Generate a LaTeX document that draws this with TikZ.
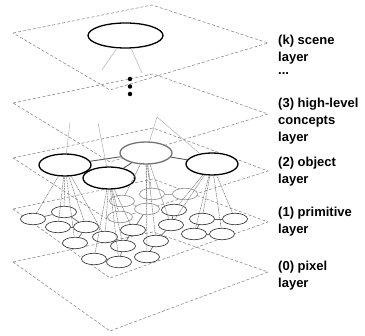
\documentclass[tikz,border=0pt]{standalone}
\usepackage{fontspec}
\setmainfont{Liberation Sans}
\usetikzlibrary{shapes.geometric}
\begin{document}
\begin{tikzpicture}[x=1pt,y=-1pt,
  plane/.style={draw=black!45, dash pattern=on 3pt off 2pt, line width=0.6pt},
  objnode/.style={ellipse, draw=black, line width=1.3pt, fill=white,
    minimum width=52pt, minimum height=22pt, inner sep=0pt},
  objback/.style={objnode, draw=black!55},
  primnode/.style={ellipse, draw=black!75, line width=0.7pt, fill=white,
    minimum width=25pt, minimum height=11.5pt, inner sep=0pt},
  primback/.style={primnode, draw=black!40},
  uplink/.style={draw=black!30, line width=0.5pt},
  downlink/.style={draw=black!55, line width=0.5pt, dash pattern=on 1pt off 0.6pt},
  peer/.style={draw=black!65, line width=0.6pt},
  lbl/.style={anchor=north west, align=left, inner sep=0pt,
    font=\fontsize{13}{17}\selectfont\bfseries},
  dot/.style={circle, fill=black, inner sep=0pt, minimum size=4.5pt}]
\useasboundingbox (0,0) rectangle (365,336);

% layer planes, bottom to top
\draw[plane] (13,262) -- (153,232) -- (268,272) -- (110,331) -- cycle;
\draw[plane] (13,209) -- (153,179) -- (268,222) -- (110,278) -- cycle;
\draw[plane] (13,158) -- (153,128) -- (268,171) -- (110,221) -- cycle;
\draw[plane] (13,103) -- (153,74) -- (268,114) -- (110,162) -- cycle;
\draw[plane] (13,33) -- (152,5) -- (268,43) -- (110,90) -- cycle;

% primitive layer
\node[primback] (g1) at (122,201) {};
\node[primback] (g2) at (152,194) {};
\node[primback] (g3) at (185,194) {};
\node[primback] (g4) at (147,209) {};
\node[primback] (g5) at (120,217) {};
\node[primnode] (b1) at (33,219) {};
\node[primnode] (b2) at (64,212) {};
\node[primnode] (b3) at (58,227) {};
\node[primnode] (b4) at (86,227) {};
\node[primnode] (b5) at (75,243) {};
\node[primnode] (b6) at (105,237) {};
\node[primnode] (b7) at (133,230) {};
\node[primnode] (b8) at (123,246) {};
\node[primnode] (b9) at (94,259) {};
\node[primnode] (b10) at (119,262) {};
\node[primnode] (b11) at (147,257) {};
\node[primnode] (b12) at (156,241) {};
\node[primnode] (b13) at (171,225) {};
\node[primnode] (b14) at (174,210) {};
\node[primnode] (b15) at (202,219) {};
\node[primnode] (b16) at (235,219) {};
\node[primnode] (b17) at (194,234) {};
\node[primnode] (b18) at (222,234) {};

% links inside the primitive layer
\draw[peer] (b1) -- (b2);
\draw[peer] (b2) -- (b4);
\draw[peer] (b3) -- (b4);
\draw[peer] (b4) -- (b5);
\draw[peer] (b6) -- (b8);
\draw[peer] (b7) -- (b8);
\draw[peer] (b8) -- (b10);
\draw[peer] (b11) -- (b12);
\draw[peer] (b12) -- (b13);
\draw[peer] (b13) -- (b14);
\draw[peer] (b15) -- (b16);
\draw[peer] (b17) -- (b18);
\draw[peer] (b15) -- (b17);
\draw[peer] (b7) -- (g4);
\draw[peer, draw=black!35] (g1) -- (g4);
\draw[peer, draw=black!35] (g2) -- (g3);

% object layer
\node[objnode] (o1) at (65,165) {};
\node[objnode] (o2) at (109,178) {};
\node[objback] (o3) at (146,153) {};
\node[objnode] (o4) at (212,164) {};
\draw[peer, line width=0.9pt] (o1) -- (o3);
\draw[peer, line width=0.9pt] (o3) -- (o4);
\draw[peer, line width=0.9pt] (o2) -- (o3);

% object-to-primitive links
\foreach \p in {b1,b2,b3,b4,b5,b6} \draw[downlink] (o1) -- (\p);
\foreach \p in {b6,b8,b9,b10,b7,g5} \draw[downlink] (o2) -- (\p);
\foreach \p in {g1,g2,g4,b12,b11,b13} \draw[downlink] (o3) -- (\p);
\foreach \p in {b13,b14,b15,b16,b17,b18} \draw[downlink] (o4) -- (\p);

% links up towards the concept layer
\coordinate (h1) at (70,122);
\coordinate (h2) at (98,123);
\coordinate (h3) at (157,117);
\draw[uplink] (o1) -- (h1);
\draw[uplink] (o2) -- (h2);
\draw[uplink] (o3) -- (h3);
\draw[uplink] (o4) -- (h3);

% scene layer
\node[objnode, minimum width=75pt, minimum height=25pt] (s) at (125.5,35.5) {};
\coordinate (s1) at (102,70);
\coordinate (s2) at (142,73);
\draw[uplink] (s) -- (s1);
\draw[uplink] (s) -- (s2);
\node[dot] (d1) at (130,79) {};
\node[dot] (d2) at (130,86.5) {};
\node[dot] (d3) at (130,94) {};

% layer names
\node[lbl] (lk) at (278,35) {(k) scene\\layer};
\node[lbl] (ldots) at (278,72) {...};
\node[lbl] (l3) at (278,98) {(3) high-level\\concepts\\layer};
\node[lbl] (l2) at (278,157) {(2) object\\layer};
\node[lbl] (l1) at (278,207) {(1) primitive\\layer};
\node[lbl] (l0) at (278,261) {(0) pixel\\layer};
\end{tikzpicture}
\end{document}
